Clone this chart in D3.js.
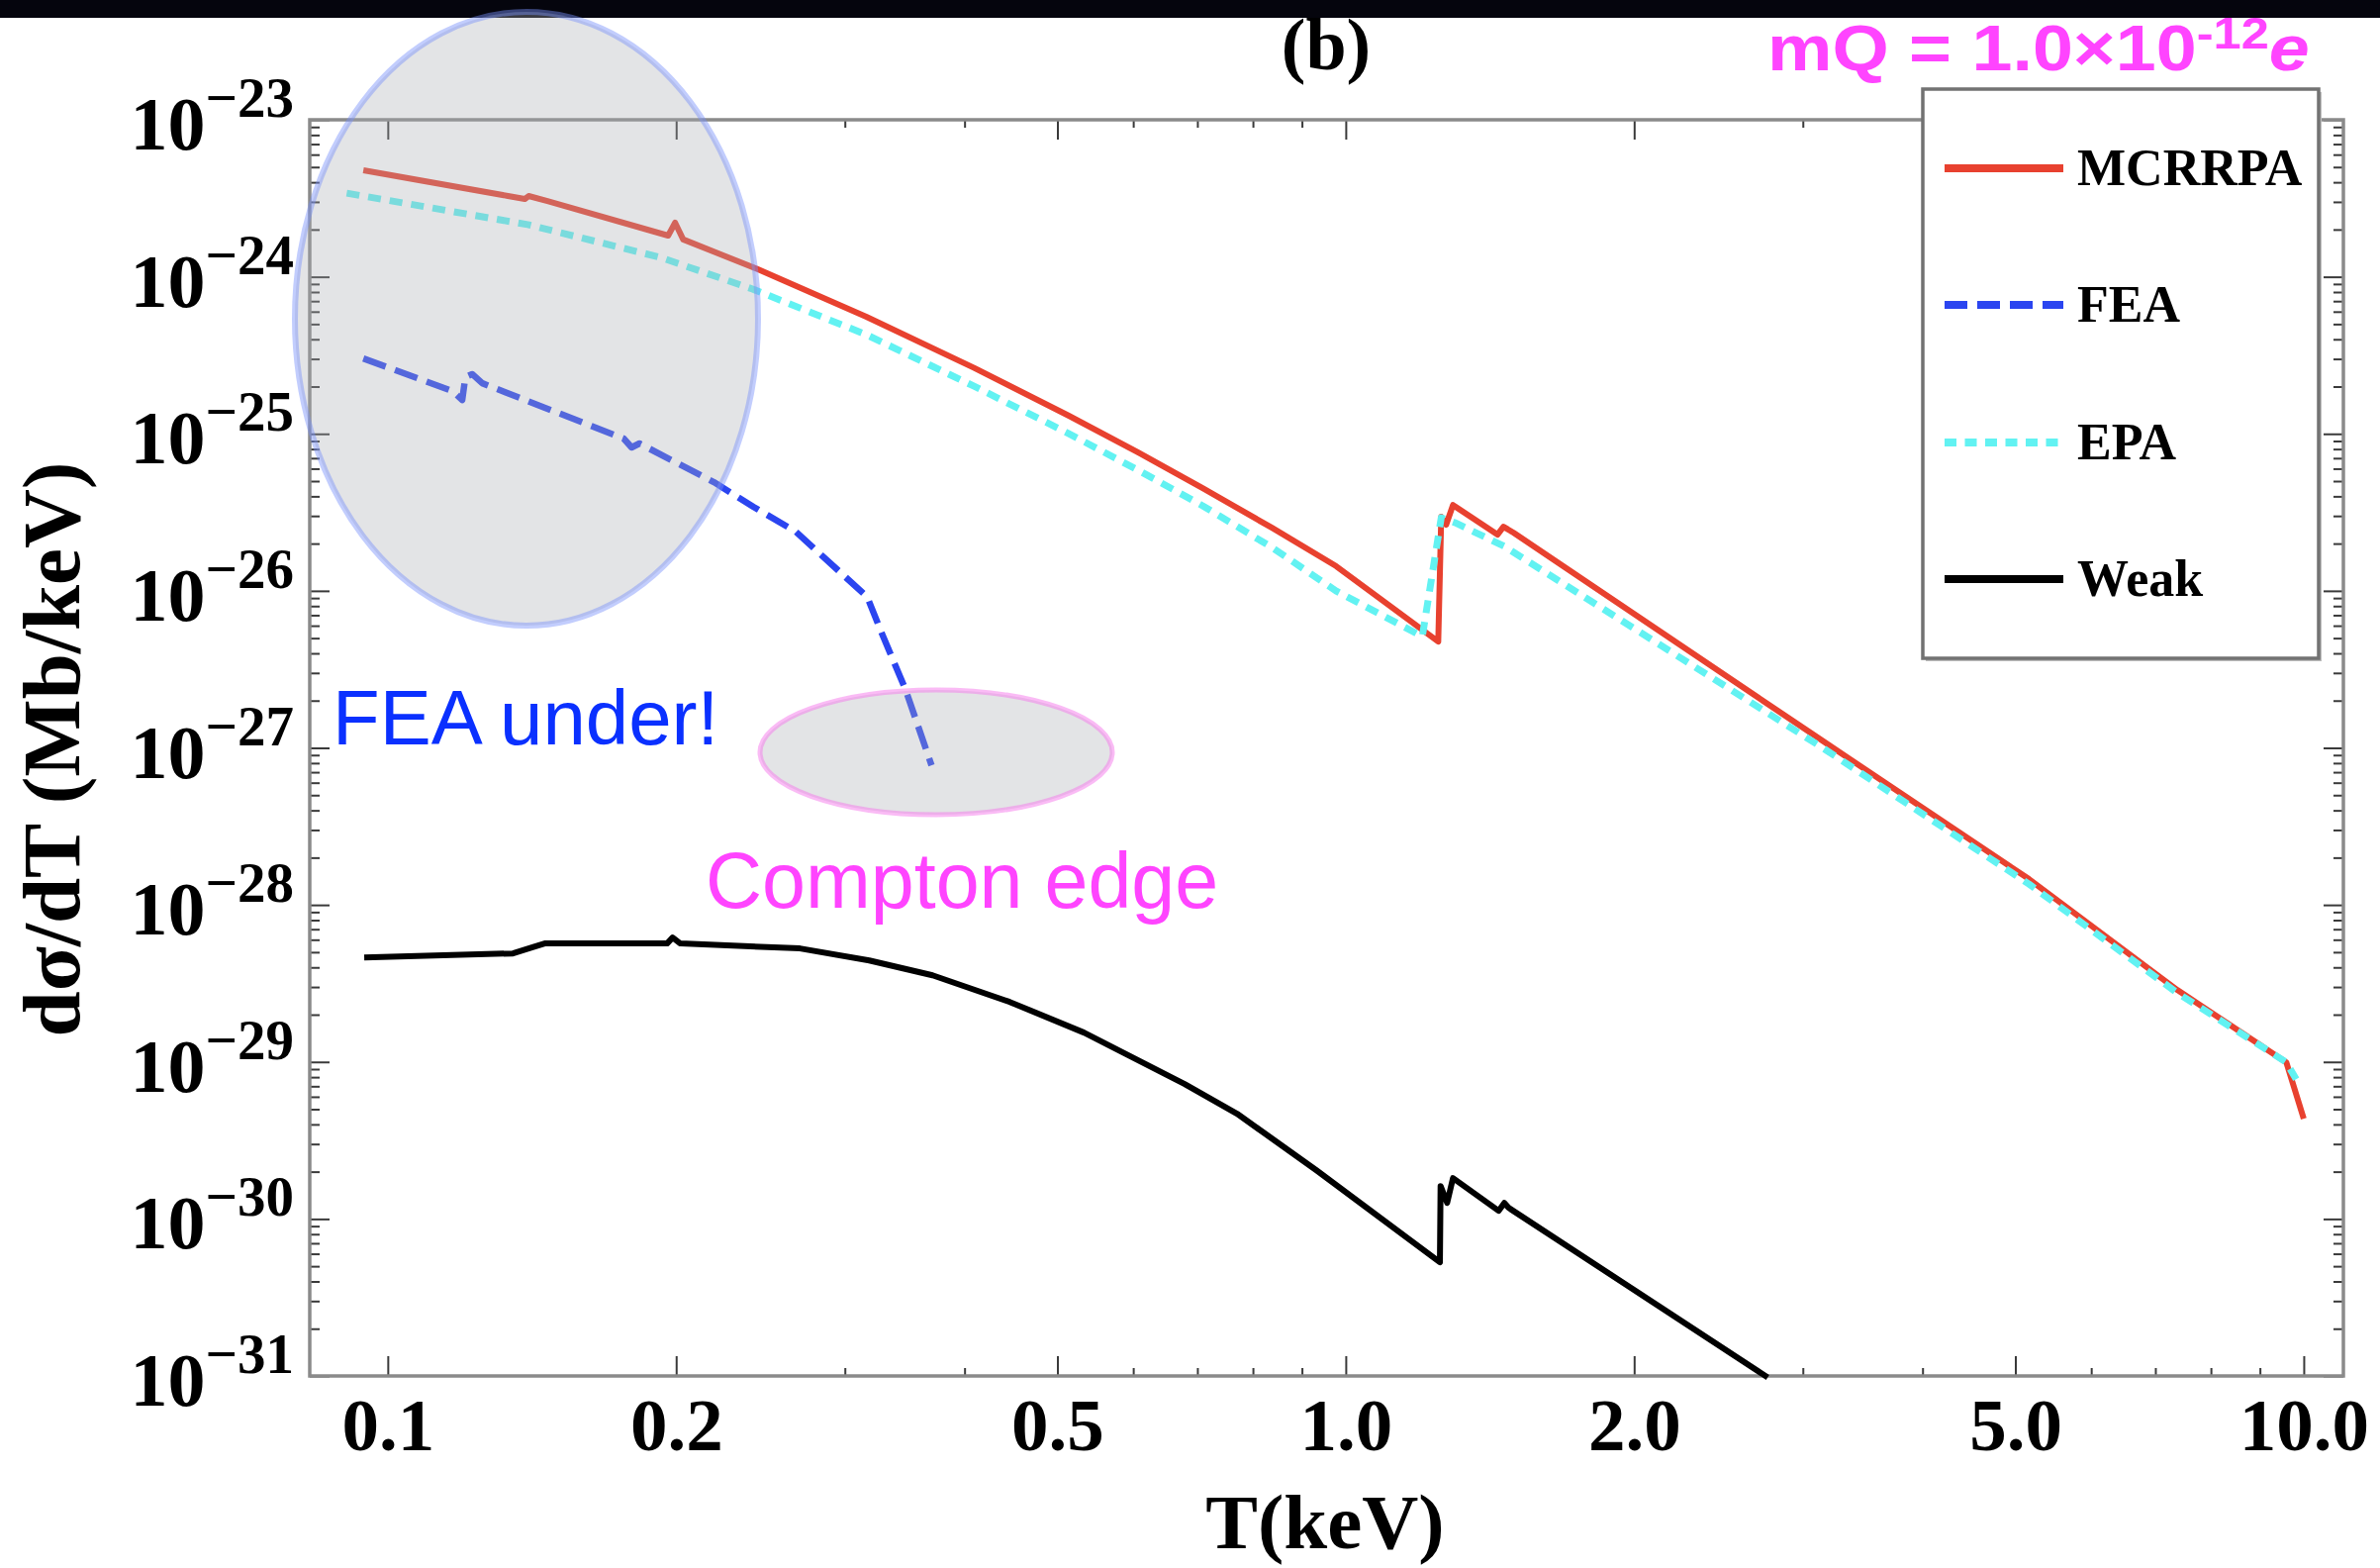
<!DOCTYPE html>
<html><head><meta charset="utf-8">
<script src="https://cdn.jsdelivr.net/npm/d3@7"></script>
<style>html,body{margin:0;padding:0;background:#fff;overflow:hidden}svg{display:block}</style>
</head><body>
<script>
// ---------- data ----------
const mcrrpaT = [0.0943,0.1335,0.139,0.1403,0.1468,0.1962,0.1995,0.2034,0.2431,0.3159,0.4093,0.514,0.6074,0.709,0.8375,0.9775,1.249,1.258,1.273,1.294,1.440,1.461,1.496,3.142,5.167,7.38,9.59,10.0];
const mcrrpaV = [4.77e-24,3.27e-24,3.13e-24,3.27e-24,3.04e-24,1.83e-24,2.21e-24,1.73e-24,1.12e-24,5.56e-25,2.63e-25,1.303e-25,7.61e-26,4.51e-26,2.52e-26,1.434e-26,4.75e-27,2.96e-26,2.64e-26,3.52e-26,2.28e-26,2.56e-26,2.35e-26,1.114e-27,1.46e-28,2.87e-29,9.94e-30,4.35e-30];

const feaT = [0.0943,0.1168,0.1196,0.1205,0.1225,0.1255,0.1763,0.1797,0.1831,0.219,0.2408,0.2667,0.3166,0.328,0.3473,0.3695];
const feaV = [3.02e-25,1.873e-25,1.643e-25,2.295e-25,2.40e-25,2.10e-25,9.33e-26,8.19e-26,8.68e-26,4.92e-26,3.43e-26,2.38e-26,9.14e-27,5.34e-27,2.33e-27,7.74e-28];

const epaT = [0.0906,0.140,0.1925,0.2403,0.3159,0.4093,0.514,0.6074,0.709,0.8375,0.9775,1.202,1.258,1.300,1.464,3.142,5.167,7.38,9.59,9.82];
const epaV = [3.41e-24,2.15e-24,1.33e-24,8.36e-25,4.28e-25,2.01e-25,1.003e-25,5.86e-26,3.48e-26,1.89e-26,9.97e-27,5.12e-27,2.92e-26,2.72e-26,1.92e-26,1.006e-27,1.356e-28,2.75e-29,9.94e-30,7.76e-30];

const weakT = [0.0945,0.1351,0.1403,0.1458,0.1957,0.1983,0.202,0.2693,0.3181,0.3704,0.4459,0.533,0.679,0.770,0.932,1.254,1.256,1.276,1.294,1.444,1.464,1.479,2.757];
const weakV = [4.63e-29,4.91e-29,5.28e-29,5.68e-29,5.68e-29,6.19e-29,5.68e-29,5.28e-29,4.43e-29,3.56e-29,2.41e-29,1.537e-29,7.23e-30,4.68e-30,2.04e-30,5.30e-31,1.62e-30,1.265e-30,1.82e-30,1.127e-30,1.265e-30,1.178e-30,0.98e-31];

const xTickValues = [0.1,0.2,0.5,1.0,2.0,5.0,10.0];
const xTickLabels = ["0.1","0.2","0.5","1.0","2.0","5.0","10.0"];
const yTickExponents = [-23,-24,-25,-26,-27,-28,-29,-30,-31];
const legendLabels = ["MCRRPA","FEA","EPA","Weak"];
const titleText = "(b)";
const xAxisTitle = "T(keV)";
const yAxisTitle = "dσ/dT (Mb/keV)";

// ---------- setup ----------
const W = 2405, H = 1584;
const M = {left:313, right:2368, top:121, bottom:1390};
const serif = "'Liberation Serif','Times New Roman',serif";
const sans = "'Liberation Sans',Arial,Helvetica,sans-serif";

const svg = d3.select("body").append("svg").attr("width", W).attr("height", H);
svg.append("rect").attr("width", W).attr("height", H).attr("fill", "#fff");

const x = d3.scaleLog().domain([0.0829, 11.0]).range([M.left, M.right]);
const y = d3.scaleLog().domain([1e-31, 1e-23]).range([M.bottom, M.top]);

const xMinor = x.ticks().filter(d => d > 0.099 && d < 10.01 && !xTickValues.some(t => Math.abs(t - d) < 1e-9));
const yMajor = yTickExponents.map(e => Math.pow(10, e));
const yMinor = y.ticks().filter(d => !yMajor.some(t => Math.abs(Math.log10(t) - Math.log10(d)) < 1e-6));

function styleAxis(g){
  g.select(".domain").remove();
  g.selectAll(".tick line").attr("stroke", "#3a3a3a").attr("stroke-width", 2);
}

// bottom
const gB = svg.append("g").attr("transform", `translate(0,${M.bottom})`)
  .call(d3.axisBottom(x).tickValues(xTickValues).tickSize(-20).tickFormat((d,i) => xTickLabels[i]));
styleAxis(gB);
gB.selectAll("text").attr("y", 75).attr("dy", null)
  .attr("font-family", serif).attr("font-weight", "bold").attr("font-size", 75).attr("fill", "#000");
svg.append("g").attr("transform", `translate(0,${M.bottom})`)
  .call(d3.axisBottom(x).tickValues(xMinor).tickSize(-8).tickFormat("")).call(styleAxis);
// top
svg.append("g").attr("transform", `translate(0,${M.top})`)
  .call(d3.axisTop(x).tickValues(xTickValues).tickSize(-20).tickFormat("")).call(styleAxis);
svg.append("g").attr("transform", `translate(0,${M.top})`)
  .call(d3.axisTop(x).tickValues(xMinor).tickSize(-8).tickFormat("")).call(styleAxis);
// left
svg.append("g").attr("transform", `translate(${M.left},0)`)
  .call(d3.axisLeft(y).tickValues(yMajor).tickSize(-20).tickFormat("")).call(styleAxis);
svg.append("g").attr("transform", `translate(${M.left},0)`)
  .call(d3.axisLeft(y).tickValues(yMinor).tickSize(-10).tickFormat("")).call(styleAxis);
// right
svg.append("g").attr("transform", `translate(${M.right},0)`)
  .call(d3.axisRight(y).tickValues(yMajor).tickSize(-20).tickFormat("")).call(styleAxis);
svg.append("g").attr("transform", `translate(${M.right},0)`)
  .call(d3.axisRight(y).tickValues(yMinor).tickSize(-10).tickFormat("")).call(styleAxis);

// y tick labels 10^n
const yl = svg.append("g").selectAll("text").data(yTickExponents).join("text")
  .attr("x", 297).attr("y", e => y(Math.pow(10, e)) + 30)
  .attr("text-anchor", "end").attr("font-family", serif).attr("font-weight", "bold").attr("fill", "#000");
yl.append("tspan").attr("font-size", 76).text("10");
yl.append("tspan").attr("font-size", 57).attr("dy", -33).text(e => "\u2212" + Math.abs(e));

// frame
svg.append("rect").attr("x", M.left).attr("y", M.top)
  .attr("width", M.right - M.left).attr("height", M.bottom - M.top)
  .attr("fill", "none").attr("stroke", "#8a8a8a").attr("stroke-width", 3.5);

// axis titles
svg.append("text").attr("x", 1339).attr("y", 1564).attr("text-anchor", "middle")
  .attr("font-family", serif).attr("font-weight", "bold").attr("font-size", 79).text(xAxisTitle);
svg.append("text").attr("transform", "translate(80,757) rotate(-90)").attr("text-anchor", "middle")
  .attr("font-family", serif).attr("font-weight", "bold").attr("font-size", 83).text(yAxisTitle);

// ---------- series ----------
const line = d3.line().x(d => x(d[0])).y(d => y(d[1]));
const zip = (a, b) => a.map((t, i) => [t, b[i]]);
const series = [
  {name:"MCRRPA", data: zip(mcrrpaT, mcrrpaV), color:"#e8412f", width:6, dash:null},
  {name:"FEA", data: zip(feaT, feaV), color:"#2b45f0", width:6.5, dash:"24 10"},
  {name:"EPA", data: zip(epaT, epaV), color:"#62f2f2", width:7, dash:"13 9"},
  {name:"Weak", data: zip(weakT, weakV), color:"#000000", width:6, dash:null}
];
svg.append("g").selectAll("path").data(series).join("path")
  .attr("d", s => line(s.data)).attr("fill", "none")
  .attr("stroke", s => s.color).attr("stroke-width", s => s.width)
  .attr("stroke-dasharray", s => s.dash).attr("stroke-linejoin", "round");

// ---------- legend ----------
const lg = svg.append("g");
lg.append("rect").attr("x", 1946).attr("y", 93).attr("width", 400).attr("height", 575).attr("fill", "#bdbdbd");
lg.append("rect").attr("x", 1943).attr("y", 90).attr("width", 400).attr("height", 575)
  .attr("fill", "#fff").attr("stroke", "#727272").attr("stroke-width", 3.5);
const legY = [170, 308, 447, 585];
const legendDash = [null, "23 10", "12 8.5", null];
const le = lg.selectAll("g.le").data(series).join("g").attr("class", "le");
le.append("line").attr("x1", 1965).attr("x2", 2085).attr("y1", (d,i) => legY[i]).attr("y2", (d,i) => legY[i])
  .attr("stroke", d => d.color).attr("stroke-width", 8).attr("stroke-dasharray", (d,i) => legendDash[i]);
le.append("text").attr("x", 2099).attr("y", (d,i) => legY[i] + 17)
  .attr("font-family", serif).attr("font-weight", "bold").attr("font-size", 52).text((d,i) => legendLabels[i]);

// ---------- title ----------
svg.append("text").attr("x", 1340).attr("y", 70).attr("text-anchor", "middle")
  .attr("font-family", serif).attr("font-weight", "bold").attr("font-size", 74).text(titleText);

// top black bar
svg.append("rect").attr("x", 0).attr("y", 0).attr("width", W).attr("height", 18).attr("fill", "#05050d");

// ---------- annotation overlays ----------
svg.append("ellipse").attr("cx", 532).attr("cy", 322).attr("rx", 234).attr("ry", 310)
  .attr("fill", "rgba(170,172,180,0.33)").attr("stroke", "rgba(120,145,250,0.45)").attr("stroke-width", 6);
svg.append("ellipse").attr("cx", 946).attr("cy", 760).attr("rx", 178).attr("ry", 63)
  .attr("fill", "rgba(170,172,180,0.33)").attr("stroke", "rgba(245,120,235,0.5)").attr("stroke-width", 5);

svg.append("text").attr("x", 336).attr("y", 752).attr("font-family", sans).attr("font-size", 78)
  .attr("fill", "#0a30ff").text("FEA under!");
svg.append("text").attr("x", 713).attr("y", 917).attr("font-family", sans).attr("font-size", 79)
  .attr("fill", "#ff44ff").text("Compton edge");

const mq = svg.append("text").attr("transform", "translate(1786,71) scale(1.15,1)")
  .attr("font-family", sans).attr("font-weight", "bold").attr("font-size", 64).attr("fill", "#ff44ff");
mq.append("tspan").text("mQ = 1.0\u00d710");
mq.append("tspan").attr("font-size", 44).attr("dy", -22).text("-12");
mq.append("tspan").attr("font-style", "italic").attr("dy", 22).text("e");
</script>
</body></html>
